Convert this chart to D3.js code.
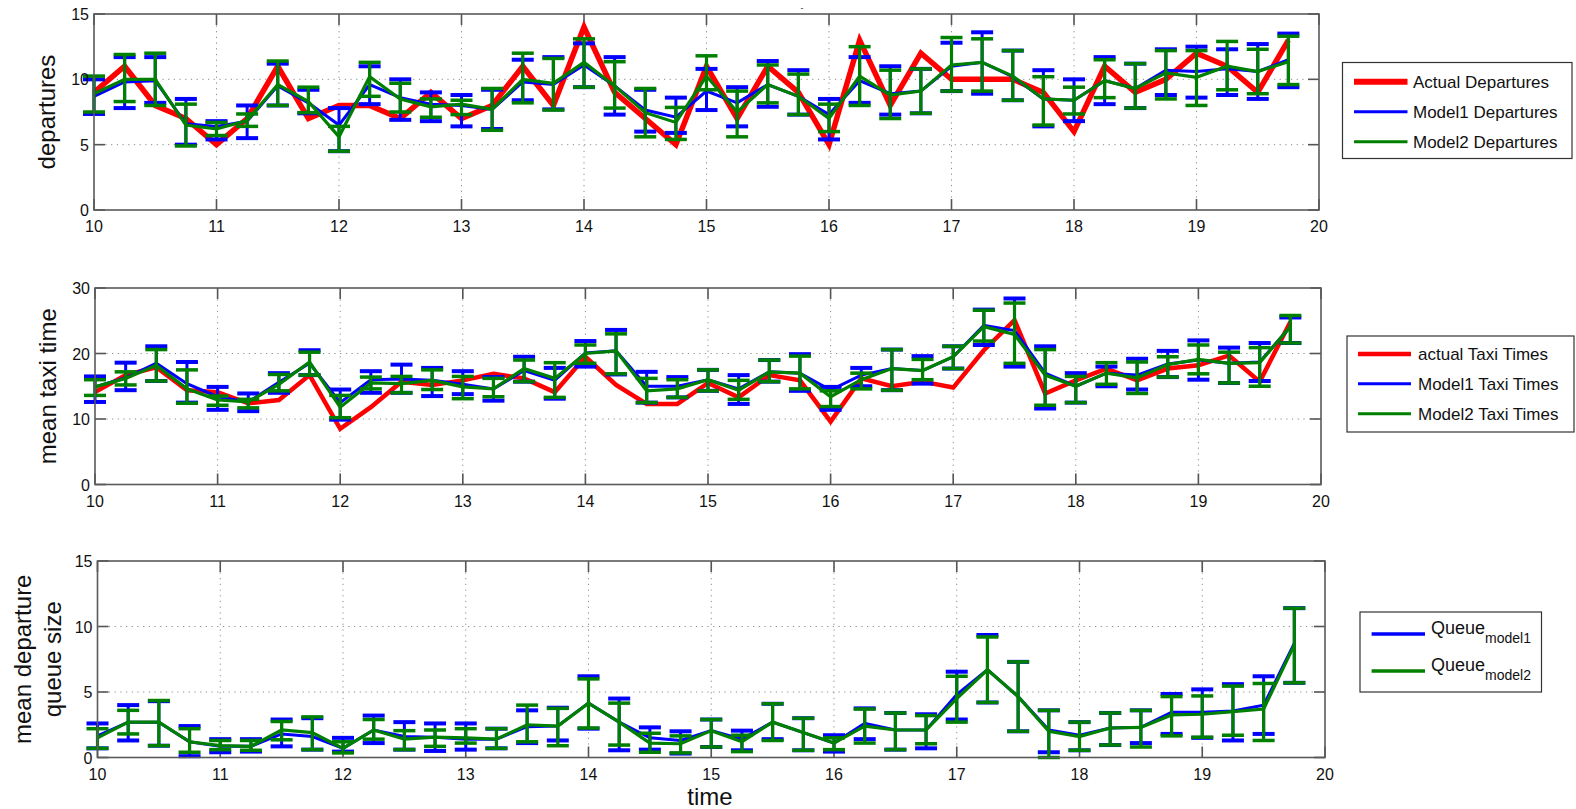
<!DOCTYPE html>
<html>
<head>
<meta charset="utf-8">
<script src="https://cdn.jsdelivr.net/npm/d3@7.9.0/dist/d3.min.js"></script>
<style>
  body { margin: 0; background: #fff; }
  svg { display: block; font-family: "Liberation Sans", Arial, Helvetica, sans-serif; }
</style>
</head>
<body>
<div id="chart"></div>
<script>
// quarter-hour time steps
const times = [10, 10.25, 10.5, 10.75, 11, 11.25, 11.5, 11.75, 12, 12.25, 12.5, 12.75,
  13, 13.25, 13.5, 13.75, 14, 14.25, 14.5, 14.75, 15, 15.25, 15.5, 15.75,
  16, 16.25, 16.5, 16.75, 17, 17.25, 17.5, 17.75, 18, 18.25, 18.5, 18.75,
  19, 19.25, 19.5, 19.75];
const xTicks = [10, 11, 12, 13, 14, 15, 16, 17, 18, 19, 20];

// panel 1: departures
const depActual = [9, 11, 8, 7, 5, 7, 11, 7, 8, 8, 7, 9, 7, 8, 11, 8, 14, 9, 7, 5,
  11, 7, 11, 9, 5, 13, 8, 12, 10, 10, 10, 9, 6, 11, 9, 10, 12, 11, 9, 13];
const depM1 = [8.7, 9.8, 9.9, 6.6, 6.4, 6.8, 9.5, 8.2, 6.5, 9.6, 8.6, 8.1, 8.0, 7.7, 9.8, 9.6,
  11.1, 9.5, 7.65, 7.1, 9.1, 8.2, 9.6, 8.7, 7.3, 9.9, 8.9, 9.1, 11.0, 11.3, 10.2, 8.5,
  8.4, 9.9, 9.3, 10.7, 10.6, 10.8, 10.6, 11.5];
const depM1Lo = [7.35, 7.8, 8.2, 5.0, 5.4, 5.5, 8.0, 7.4, 4.5, 8.1, 6.9, 6.8, 6.4, 6.2, 8.4, 7.7,
  9.4, 7.3, 6.0, 5.9, 7.65, 6.4, 7.9, 7.3, 5.4, 8.2, 7.3, 7.4, 9.1, 8.9, 8.4, 6.4,
  6.8, 8.1, 7.8, 8.8, 8.6, 8.8, 8.5, 9.4];
const depM1Hi = [10.0, 11.7, 11.7, 8.5, 6.8, 8.0, 11.2, 9.2, 7.8, 11.0, 10.0, 9.0, 8.8, 9.2, 11.5, 11.7,
  12.75, 11.7, 9.2, 8.6, 10.8, 9.4, 11.4, 10.7, 8.5, 11.7, 11.0, 10.8, 12.8, 13.6, 12.2, 10.7,
  10.0, 11.7, 11.2, 12.3, 12.5, 12.3, 12.7, 13.5];
const depM2 = [8.9, 10.0, 10.0, 6.5, 6.2, 6.85, 9.6, 8.3, 5.6, 10.2, 8.5, 7.9, 8.1, 7.7, 10.0, 9.7,
  11.3, 9.5, 7.45, 6.7, 10.25, 7.5, 9.6, 8.7, 7.0, 10.25, 8.8, 9.1, 11.1, 11.3, 10.25, 8.5,
  8.4, 9.9, 9.3, 10.5, 10.15, 11.0, 10.6, 11.35];
const depM2Lo = [7.5, 8.3, 8.0, 4.9, 5.7, 6.4, 8.0, 7.45, 4.5, 8.7, 7.5, 7.1, 7.3, 6.1, 8.2, 7.65,
  9.4, 7.8, 5.6, 5.4, 9.2, 5.6, 8.2, 7.3, 6.0, 8.0, 7.0, 7.4, 9.1, 9.1, 8.4, 6.5,
  7.35, 8.6, 7.8, 8.5, 8.0, 9.2, 8.9, 9.6];
const depM2Hi = [10.25, 11.9, 12.0, 8.1, 6.7, 7.35, 11.4, 9.4, 6.4, 11.3, 9.7, 8.5, 8.4, 9.3, 12.0, 11.6,
  13.1, 11.35, 9.3, 7.85, 11.8, 9.1, 11.1, 10.4, 8.1, 12.5, 10.7, 10.8, 13.2, 13.1, 12.2, 10.2,
  9.4, 11.5, 11.2, 12.2, 12.2, 12.9, 12.3, 13.3];

// panel 2: mean taxi time
const taxiActual = [14.1, 16.7, 17.9, 14.4, 14.1, 12.4, 12.9, 16.7, 8.5, 11.8, 15.7, 15.2, 15.9, 16.9, 16.2, 14.1,
  19.5, 15.2, 12.3, 12.3, 15.5, 13.3, 16.7, 15.9, 9.6, 16.2, 15.0, 15.7, 14.8, 20.5, 25.1, 13.9,
  15.9, 17.7, 15.9, 17.7, 18.2, 19.7, 15.7, 24.8];
const taxiM1 = [14.9, 16.3, 18.5, 15.4, 13.4, 12.6, 15.6, 18.5, 12.5, 16.0, 16.1, 15.9, 15.3, 14.6, 17.4, 15.9,
  20.1, 20.4, 15.0, 15.0, 16.0, 14.6, 17.2, 17.0, 14.4, 16.7, 17.7, 17.4, 19.5, 24.3, 23.5, 17.0,
  15.0, 17.0, 16.7, 18.4, 19.0, 18.5, 18.7, 24.1];
const taxiM1Lo = [12.6, 14.4, 15.8, 12.5, 11.4, 11.2, 14.0, 16.7, 9.9, 14.0, 14.0, 13.5, 13.8, 12.8, 15.7, 13.1,
  18.0, 16.8, 12.5, 13.3, 14.3, 12.3, 15.7, 14.3, 11.4, 15.0, 14.4, 15.4, 17.7, 21.3, 18.0, 11.6,
  12.5, 15.0, 14.5, 16.4, 16.0, 15.5, 15.8, 21.6];
const taxiM1Hi = [16.5, 18.6, 21.1, 18.7, 14.9, 13.9, 17.0, 20.5, 14.5, 17.3, 18.3, 17.8, 17.3, 16.4, 19.5, 17.8,
  21.9, 23.6, 17.2, 16.4, 17.5, 16.7, 19.0, 19.9, 14.9, 17.8, 20.6, 19.6, 21.1, 26.7, 28.4, 21.1,
  17.0, 18.0, 19.2, 20.4, 22.0, 20.9, 21.6, 25.5];
const taxiM2 = [14.9, 16.2, 18.2, 14.6, 12.9, 12.6, 15.3, 18.7, 11.8, 15.5, 15.4, 15.9, 14.9, 14.6, 17.7, 16.2,
  20.0, 20.4, 14.3, 14.6, 16.0, 14.4, 17.2, 17.0, 13.4, 16.0, 17.7, 17.4, 19.5, 24.1, 22.9, 16.7,
  15.0, 17.0, 16.3, 18.3, 19.1, 18.5, 18.6, 24.1];
const taxiM2Lo = [13.6, 15.2, 15.8, 12.4, 12.1, 11.7, 14.3, 16.7, 10.2, 14.6, 14.0, 14.5, 13.1, 13.4, 15.7, 13.3,
  18.5, 16.9, 12.5, 13.3, 14.3, 13.0, 15.7, 14.6, 11.9, 14.6, 14.4, 16.0, 17.7, 21.9, 18.5, 12.1,
  12.5, 15.3, 13.9, 16.4, 16.9, 15.5, 15.0, 21.6];
const taxiM2Hi = [16.0, 17.2, 20.6, 17.5, 13.5, 13.0, 16.8, 20.2, 13.6, 16.4, 16.5, 17.5, 16.5, 16.2, 19.0, 18.6,
  21.3, 23.0, 16.2, 16.0, 17.5, 15.9, 19.0, 19.6, 14.3, 17.0, 20.6, 19.1, 21.1, 26.6, 27.7, 20.6,
  16.5, 18.6, 18.7, 19.5, 21.3, 20.2, 20.9, 25.8];

// panel 3: mean departure queue size
const queueM1 = [1.65, 2.7, 2.7, 1.2, 0.85, 0.85, 1.8, 1.6, 0.7, 2.1, 1.6, 1.55, 1.4, 1.4, 2.35, 2.4,
  4.15, 2.7, 1.5, 1.3, 2.05, 1.4, 2.7, 1.9, 1.1, 2.6, 2.1, 2.1, 4.8, 6.7, 4.65, 2.1,
  1.7, 2.25, 2.3, 3.45, 3.45, 3.55, 4.0, 8.7];
const queueM1Lo = [0.7, 1.3, 0.9, 0.1, 0.4, 0.45, 0.85, 0.6, 0.45, 1.1, 0.6, 0.5, 0.6, 0.7, 1.1, 1.3,
  2.2, 0.55, 0.6, 0.3, 0.8, 0.55, 1.4, 0.55, 0.45, 1.4, 0.6, 0.7, 2.9, 4.2, 2.0, 0.4,
  0.55, 0.95, 1.1, 1.8, 1.5, 1.3, 1.8, 5.7];
const queueM1Hi = [2.6, 4.0, 4.3, 2.4, 1.4, 1.4, 2.9, 3.0, 1.5, 3.2, 2.7, 2.6, 2.6, 2.2, 3.6, 3.8,
  6.2, 4.5, 2.3, 2.0, 2.9, 2.05, 4.1, 3.0, 1.7, 3.75, 3.4, 3.3, 6.55, 9.35, 7.3, 3.6,
  2.7, 3.4, 3.6, 4.85, 5.2, 5.6, 6.2, 11.4];
const queueM2 = [1.5, 2.7, 2.7, 1.2, 0.9, 0.85, 2.1, 1.9, 0.7, 2.1, 1.4, 1.55, 1.5, 1.4, 2.5, 2.4,
  4.15, 2.7, 1.1, 1.05, 2.05, 1.2, 2.7, 1.9, 1.1, 2.4, 2.1, 2.1, 4.5, 6.7, 4.65, 2.0,
  1.6, 2.25, 2.3, 3.25, 3.3, 3.5, 3.7, 8.6];
const queueM2Lo = [0.7, 1.8, 0.9, 0.4, 0.6, 0.55, 1.35, 0.6, 0.35, 1.4, 0.6, 0.85, 1.1, 0.7, 1.2, 0.9,
  2.25, 0.95, 0.4, 0.35, 0.8, 0.45, 1.3, 0.55, 0.6, 1.1, 0.6, 1.05, 2.7, 4.2, 2.0, 0.0,
  0.55, 0.95, 0.8, 1.65, 1.55, 1.7, 1.3, 5.7];
const queueM2Hi = [2.2, 3.6, 4.35, 2.2, 1.3, 1.3, 2.75, 3.1, 1.2, 2.9, 2.05, 2.1, 2.2, 2.2, 4.0, 3.75,
  6.0, 4.15, 1.85, 1.65, 2.9, 1.7, 4.1, 3.0, 1.5, 3.7, 3.4, 3.2, 6.2, 9.2, 7.3, 3.6,
  2.7, 3.4, 3.6, 4.65, 4.7, 5.45, 5.65, 11.4];

const RED = '#ff0000', BLUE = '#0000ff', GREEN = '#008000';

const width = 1576, height = 809;
const svg = d3.select('#chart').append('svg')
  .attr('width', width).attr('height', height)
  .attr('viewBox', `0 0 ${width} ${height}`);
svg.append('rect').attr('width', width).attr('height', height).attr('fill', '#fff');

const panels = [
  {
    box: { left: 94, right: 1319, top: 14, bottom: 210 },
    yMax: 15, yTicks: [0, 5, 10, 15],
    ylabel: ['departures'], ylabelX: 47,
    actual: depActual, actualWidth: 5.5,
    m1: [depM1, depM1Lo, depM1Hi], m2: [depM2, depM2Lo, depM2Hi],
    legend: { x0: 1342.5, x1: 1572, y0: 62.5, y1: 158.5, rows: [81.7, 111.7, 141.7],
      lineX: [1354, 1407.5], textX: 1413,
      items: [['Actual Departures', RED, 6], ['Model1 Departures', BLUE, 3], ['Model2 Departures', GREEN, 3]] }
  },
  {
    box: { left: 95, right: 1321, top: 288, bottom: 484.5 },
    yMax: 30, yTicks: [0, 10, 20, 30],
    ylabel: ['mean taxi time'], ylabelX: 48,
    actual: taxiActual, actualWidth: 4.5,
    m1: [taxiM1, taxiM1Lo, taxiM1Hi], m2: [taxiM2, taxiM2Lo, taxiM2Hi],
    legend: { x0: 1347, x1: 1574, y0: 336, y1: 432, rows: [354, 383.7, 413.7],
      lineX: [1358, 1411], textX: 1418,
      items: [['actual Taxi Times', RED, 4.5], ['Model1 Taxi Times', BLUE, 3], ['Model2 Taxi Times', GREEN, 3]] }
  },
  {
    box: { left: 97.5, right: 1325, top: 561, bottom: 757.5 },
    yMax: 15, yTicks: [0, 5, 10, 15],
    ylabel: ['mean departure', 'queue size'], ylabelX: 23,
    actual: null,
    m1: [queueM1, queueM1Lo, queueM1Hi], m2: [queueM2, queueM2Lo, queueM2Hi],
    legend: { x0: 1360, x1: 1541.5, y0: 612, y1: 692, rows: [634, 671],
      lineX: [1371.6, 1425], textX: 1431, sub: true,
      items: [['model1', BLUE, 3.5], ['model2', GREEN, 3.5]] }
  }
];

function drawPanel(p) {
  const b = p.box;
  const x = d3.scaleLinear().domain([10, 20]).range([b.left, b.right]);
  const y = d3.scaleLinear().domain([0, p.yMax]).range([b.bottom, b.top]);
  const g = svg.append('g');

  // dotted grid
  const grid = g.append('g').attr('stroke', '#8c8c8c').attr('stroke-width', 1)
    .attr('stroke-dasharray', '1.2,4.5');
  grid.selectAll('.gx').data(xTicks.slice(1, -1)).join('line')
    .attr('x1', d => x(d)).attr('x2', d => x(d)).attr('y1', b.top).attr('y2', b.bottom);
  grid.selectAll('.gy').data(p.yTicks.slice(1, -1)).join('line')
    .attr('x1', b.left).attr('x2', b.right).attr('y1', d => y(d)).attr('y2', d => y(d));

  // inward tick marks on all four sides
  const tk = g.append('g').attr('stroke', '#555').attr('stroke-width', 1.6);
  const tl = 11;
  xTicks.forEach(d => {
    tk.append('line').attr('x1', x(d)).attr('x2', x(d)).attr('y1', b.bottom).attr('y2', b.bottom - tl);
    tk.append('line').attr('x1', x(d)).attr('x2', x(d)).attr('y1', b.top).attr('y2', b.top + tl);
  });
  p.yTicks.forEach(d => {
    tk.append('line').attr('x1', b.left).attr('x2', b.left + tl).attr('y1', y(d)).attr('y2', y(d));
    tk.append('line').attr('x1', b.right).attr('x2', b.right - tl).attr('y1', y(d)).attr('y2', y(d));
  });

  const line = d3.line().x((d, i) => x(times[i])).y(d => y(d));

  if (p.actual) {
    g.append('path').datum(p.actual).attr('d', line).attr('fill', 'none')
      .attr('stroke', RED).attr('stroke-width', p.actualWidth).attr('stroke-linejoin', 'miter');
  }

  function series(vals, color, lw, capW) {
    const [mean, lo, hi] = vals;
    const s = g.append('g').attr('stroke', color);
    s.append('path').datum(mean).attr('d', line).attr('fill', 'none').attr('stroke-width', lw);
    const eb = s.selectAll('g.eb').data(times).join('g').attr('class', 'eb');
    eb.append('line').attr('stroke-width', lw)
      .attr('x1', d => x(d)).attr('x2', d => x(d))
      .attr('y1', (d, i) => y(lo[i])).attr('y2', (d, i) => y(hi[i]));
    eb.append('line').attr('stroke-width', capW)
      .attr('x1', d => x(d) - 11).attr('x2', d => x(d) + 11)
      .attr('y1', (d, i) => y(lo[i])).attr('y2', (d, i) => y(lo[i]));
    eb.append('line').attr('stroke-width', capW)
      .attr('x1', d => x(d) - 11).attr('x2', d => x(d) + 11)
      .attr('y1', (d, i) => y(hi[i])).attr('y2', (d, i) => y(hi[i]));
  }
  series(p.m1, BLUE, 3, 4);
  series(p.m2, GREEN, 3.2, 3.5);

  // frame
  g.append('rect').attr('x', b.left).attr('y', b.top)
    .attr('width', b.right - b.left).attr('height', b.bottom - b.top)
    .attr('fill', 'none').attr('stroke', '#5a5a5a').attr('stroke-width', 1.6);

  // tick labels
  g.selectAll('.xl').data(xTicks).join('text')
    .attr('x', d => x(d)).attr('y', b.bottom + 22)
    .attr('text-anchor', 'middle').attr('font-size', 16).attr('fill', '#111')
    .text(d => d);
  g.selectAll('.yl').data(p.yTicks).join('text')
    .attr('x', b.left - 5).attr('y', d => y(d) + 6)
    .attr('text-anchor', 'end').attr('font-size', 16).attr('fill', '#111')
    .text(d => d);

  // y axis title
  const cy = (b.top + b.bottom) / 2;
  p.ylabel.forEach((t, i) => {
    g.append('text')
      .attr('transform', `translate(${p.ylabelX + i * 30 + 8},${cy}) rotate(-90)`)
      .attr('text-anchor', 'middle').attr('font-size', 24).attr('fill', '#111')
      .text(t);
  });

  // legend
  const L = p.legend;
  const lg = g.append('g');
  lg.append('rect').attr('x', L.x0).attr('y', L.y0)
    .attr('width', L.x1 - L.x0).attr('height', L.y1 - L.y0)
    .attr('fill', '#fff').attr('stroke', '#333').attr('stroke-width', 1.2);
  L.items.forEach(([label, color, lw], i) => {
    const ry = L.rows[i];
    lg.append('line').attr('x1', L.lineX[0]).attr('x2', L.lineX[1])
      .attr('y1', ry).attr('y2', ry).attr('stroke', color).attr('stroke-width', lw);
    if (L.sub) {
      const t = lg.append('text').attr('x', L.textX).attr('y', ry).attr('font-size', 18).attr('fill', '#111');
      t.append('tspan').text('Queue');
      t.append('tspan').attr('font-size', 14).attr('dy', 9).text(label);
    } else {
      lg.append('text').attr('x', L.textX).attr('y', ry + 6)
        .attr('font-size', 17).attr('fill', '#111').text(label);
    }
  });
}

panels.forEach(drawPanel);

// x axis title
svg.append('text').attr('x', 710).attr('y', 805)
  .attr('text-anchor', 'middle').attr('font-size', 24).attr('fill', '#111').text('time');
// stray title mark above the first panel
svg.append('text').attr('x', 802).attr('y', 11)
  .attr('text-anchor', 'middle').attr('font-size', 9).attr('fill', '#333').text('-');
</script>
</body>
</html>
